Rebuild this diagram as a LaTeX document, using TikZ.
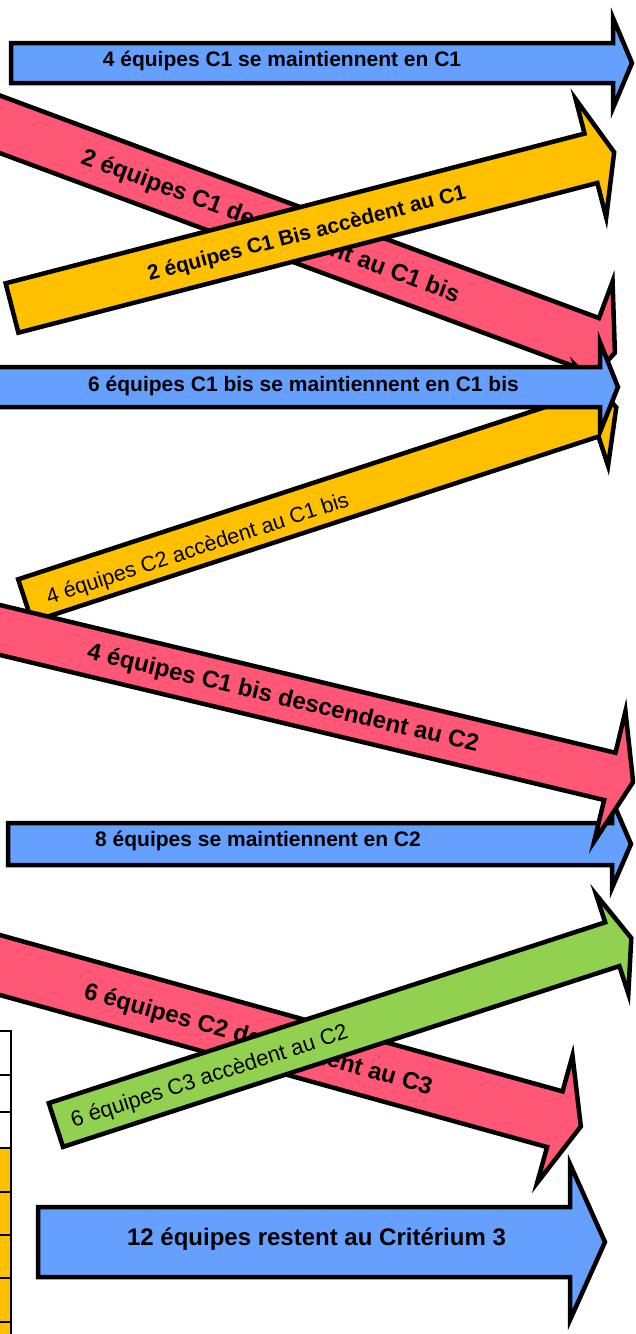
\documentclass[tikz,border=0pt]{standalone}
\usepackage{fontspec}
\setmainfont{Liberation Sans}
\definecolor{cblue}{HTML}{66A0FF}
\definecolor{cred}{HTML}{FF5775}
\definecolor{cyellow}{HTML}{FFC000}
\definecolor{cgreen}{HTML}{92D050}
\tikzset{
  body/.style={draw=black, line width=4.5pt, line join=miter},
  labB/.style={font=\fontsize{#1}{#1}\selectfont\bfseries, inner sep=0pt, anchor=base, transform shape},
  labR/.style={font=\fontsize{#1}{#1}\selectfont, inner sep=0pt, anchor=base, transform shape},
  tab/.style={draw=black, line width=1.5pt}
}
% #1 fill, #2 L, #3 w, #4 h, #5 hl
\newcommand\arrowbody[5]{%
  \draw[body, fill=#1] (0,-#3) -- (#2,-#3) -- (#2,-#4) -- ({#2+#5},0) -- (#2,#4) -- (#2,#3) -- (0,#3) -- cycle;}
\begin{document}
\begin{tikzpicture}[x=1pt, y=-1pt]
\useasboundingbox (0,0) rectangle (635,1334);
\clip (0,0) rectangle (635,1334);
\fill[white] (0,0) rectangle (635,1334);

% table fragment on the left
\draw[tab, fill=white] (-5,1031) rectangle (11,1075);
\draw[tab, fill=white] (-5,1075) rectangle (11,1112);
\draw[tab, fill=white] (-5,1112) rectangle (11,1148);
\draw[tab, fill=cyellow] (-5,1148) rectangle (11,1192);
\draw[tab, fill=cyellow] (-5,1192) rectangle (11,1235);
\draw[tab, fill=cyellow] (-5,1235) rectangle (11,1278);
\draw[tab, fill=cyellow] (-5,1278) rectangle (11,1322);
\draw[tab, fill=cyellow] (-5,1322) rectangle (11,1345);

% 1 blue top
\begin{scope}[shift={(11,63)}]
  \arrowbody{cblue}{602}{20}{45}{19}
  \node[labB=21] (t1) at (271,3) {4 équipes C1 se maintiennent en C1};
\end{scope}

% 2 red
\begin{scope}[shift={(-30,113.2)}, rotate=-20.38]
  \arrowbody{cred}{661}{27}{66}{27}
  \node[labB=24] (t2) at (321,8.5) {2 équipes C1 descendent au C1 bis};
\end{scope}

% 3 yellow
\begin{scope}[shift={(12,308)}, rotate=14.5]
  \arrowbody{cyellow}{598}{25.5}{61}{24}
  \node[labB=21] (t3) at (304,8) {2 équipes C1 Bis accèdent au C1};
\end{scope}

% 5 yellow
\begin{scope}[shift={(25.1,600.5)}, rotate=18.1]
  \arrowbody{cyellow}{596}{22.3}{53}{26}
  \node[labR=21.5] (t5) at (180,11) {4 équipes C2 accèdent au C1 bis};
\end{scope}

% 4 blue
\begin{scope}[shift={(-10,387)}]
  \arrowbody{cblue}{610}{20}{45}{18}
  \node[labB=21] (t4) at (313.5,4.5) {6 équipes C1 bis se maintiennent en C1 bis};
\end{scope}

% 7 blue
\begin{scope}[shift={(8,844)}]
  \arrowbody{cblue}{604}{21}{44}{19}
  \node[labB=21] (t7) at (250,2.5) {8 équipes se maintiennent en C2};
\end{scope}

% 6 red
\begin{scope}[shift={(-30,622.8)}, rotate=-13.5]
  \arrowbody{cred}{658}{24.3}{67}{24}
  \node[labB=24] (t6) at (322,7.5) {4 équipes C1 bis descendent au C2};
\end{scope}

% 10 blue
\begin{scope}[shift={(38,1242)}]
  \arrowbody{cblue}{532}{35}{78}{35}
  \node[labB=24] (t10) at (278.5,3) {12 équipes restent au Critérium 3};
\end{scope}

% 8 red
\begin{scope}[shift={(-30,956.7)}, rotate=-15.53]
  \arrowbody{cred}{607}{28.9}{66}{27}
  \node[labB=24] (t8) at (300,10) {6 équipes C2 descendent au C3};
\end{scope}

% 9 green
\begin{scope}[shift={(55.9,1125)}, rotate=18]
  \arrowbody{cgreen}{585}{23}{52}{20}
  \node[labR=22] (t9) at (161,8) {6 équipes C3 accèdent au C2};
\end{scope}
\end{tikzpicture}
\end{document}
